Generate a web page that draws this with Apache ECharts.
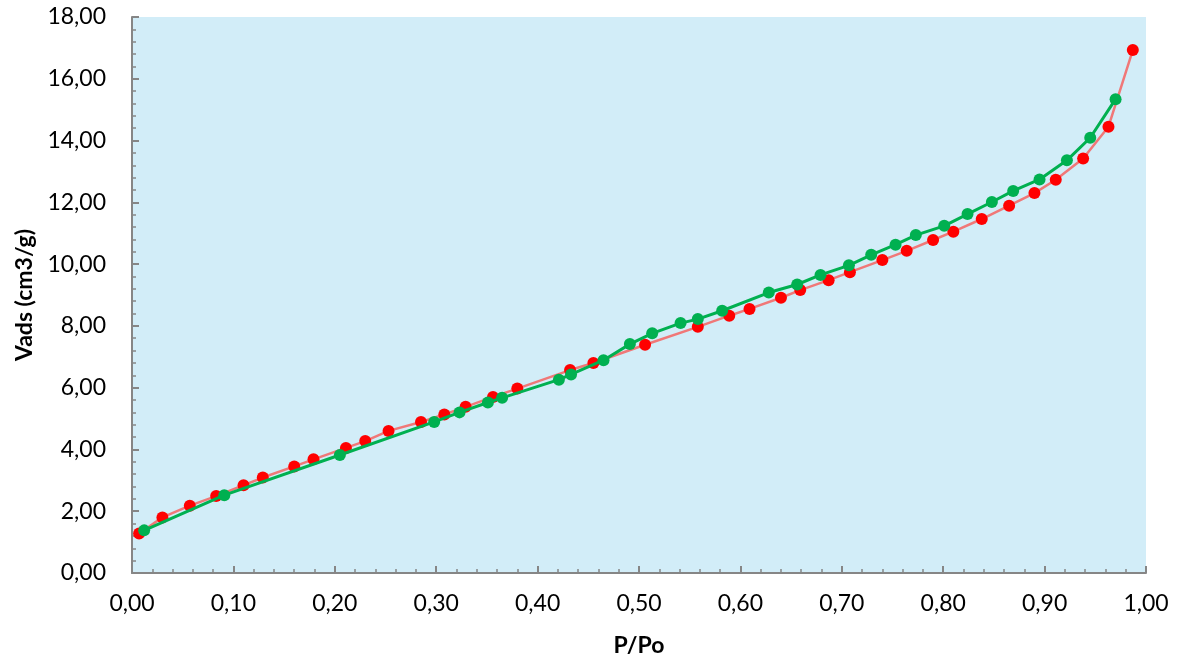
<!DOCTYPE html>
<html>
<head>
<meta charset="utf-8">
<script src="https://cdn.jsdelivr.net/npm/echarts@6/dist/echarts.min.js"></script>
<style>html,body{margin:0;padding:0;background:#fff}#c{width:1180px;height:665px}</style>
</head>
<body>
<div id="c"></div>
<script>
// Adsorption branch (red)
const adsP = [0.007,0.030,0.057,0.083,0.110,0.129,0.160,0.179,0.211,0.230,0.253,0.285,0.308,0.329,0.356,0.380,0.432,0.455,0.506,0.558,0.589,0.609,0.640,0.659,0.687,0.708,0.740,0.764,0.790,0.810,0.838,0.865,0.890,0.911,0.938,0.963,0.987];
const adsV = [1.28,1.80,2.18,2.49,2.84,3.09,3.45,3.68,4.05,4.27,4.60,4.89,5.13,5.38,5.70,5.97,6.57,6.80,7.39,7.97,8.33,8.55,8.91,9.16,9.48,9.74,10.13,10.43,10.78,11.05,11.46,11.89,12.30,12.73,13.42,14.45,16.93];
// Desorption branch (green)
const desP = [0.012,0.091,0.205,0.298,0.323,0.351,0.365,0.421,0.433,0.465,0.491,0.513,0.541,0.558,0.582,0.628,0.656,0.679,0.707,0.729,0.753,0.773,0.801,0.824,0.848,0.869,0.895,0.922,0.945,0.970];
const desV = [1.38,2.52,3.82,4.89,5.20,5.52,5.67,6.26,6.43,6.89,7.41,7.76,8.09,8.22,8.49,9.08,9.34,9.65,9.96,10.30,10.63,10.94,11.24,11.62,12.01,12.37,12.74,13.36,14.09,15.34];
const xTitle = 'P/Po';
const yTitle = 'Vads (cm3/g)';

function pairs(xs, ys){ return xs.map((x,i)=>[x, ys[i]]); }
function fmt(v){ return v.toFixed(2).replace('.', ','); }

const font = 'Lato, "Open Sans", sans-serif';
const axisLine = {show:true, lineStyle:{color:'#868686', width:2}};
const chart = echarts.init(document.getElementById('c'), null, {renderer:'canvas'});
chart.setOption({
  animation:false,
  backgroundColor:'#ffffff',
  grid:{left:132, right:34, top:17, bottom:92, show:true, borderWidth:0,
        backgroundColor:'#d2edf8'},
  xAxis:{type:'value', min:0, max:1, interval:0.1,
    name:xTitle, nameLocation:'middle', nameGap:61,
    nameTextStyle:{fontFamily:font, fontWeight:'bold', fontSize:23, color:'#000'},
    axisLine:axisLine,
    axisTick:{show:true, inside:true, length:7, lineStyle:{color:'#868686', width:2}},
    minorTick:{show:true, splitNumber:5, length:4, lineStyle:{color:'#868686', width:1.5}},
    splitLine:{show:false},
    axisLabel:{formatter:fmt, fontFamily:font, fontSize:23, color:'#000', margin:19}},
  yAxis:{type:'value', min:0, max:18, interval:2,
    name:yTitle, nameLocation:'middle', nameGap:96,
    nameTextStyle:{fontFamily:font, fontWeight:'bold', fontSize:23, color:'#000'},
    axisLine:axisLine,
    axisTick:{show:true, inside:true, length:7, lineStyle:{color:'#868686', width:2}},
    minorTick:{show:true, splitNumber:5, length:4, lineStyle:{color:'#868686', width:1.5}},
    splitLine:{show:false},
    axisLabel:{formatter:fmt, fontFamily:font, fontSize:23, color:'#000', margin:26}},
  series:[
    {type:'line', data:pairs(adsP, adsV), symbol:'circle', symbolSize:12,
     lineStyle:{color:'#f07878', width:2.5}, itemStyle:{color:'#ff0000'}, z:2},
    {type:'line', data:pairs(desP, desV), symbol:'circle', symbolSize:12,
     lineStyle:{color:'#00b050', width:3}, itemStyle:{color:'#00b050'}, z:3}
  ]
});
</script>
</body>
</html>
